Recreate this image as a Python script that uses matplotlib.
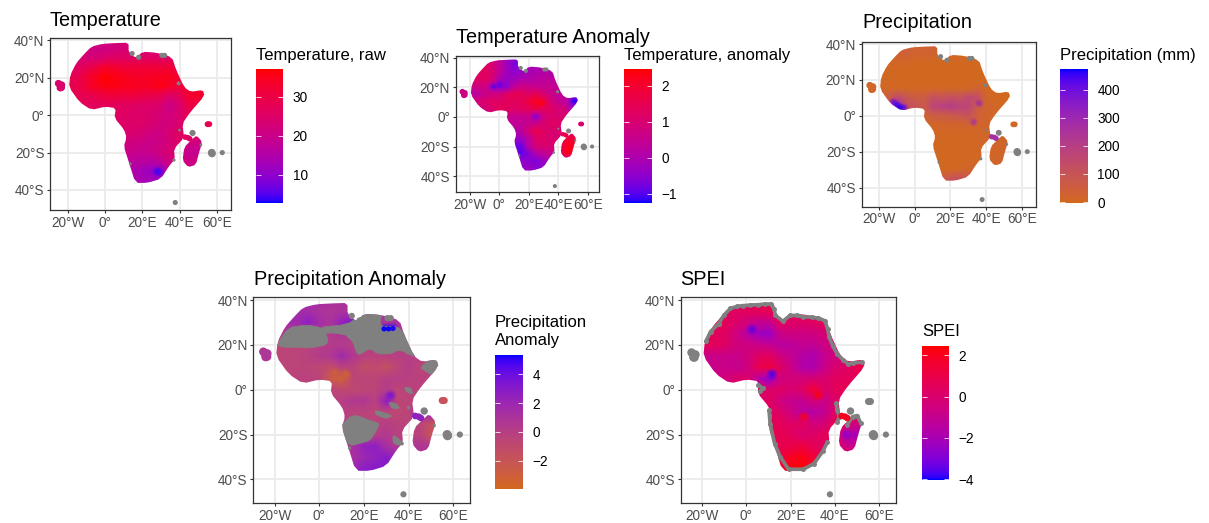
import numpy as np
import matplotlib

matplotlib.use("Agg")
import matplotlib.pyplot as plt
from matplotlib.colors import ListedColormap
from matplotlib.patches import Polygon, PathPatch
from matplotlib.path import Path

plt.rcParams['font.family'] = ['Liberation Sans', 'DejaVu Sans']

W, H = 1209, 523

# coast, lon/lat
africa_outline = [(-7.4, 36.7), (-1.4, 38.2), (6, 38.6), (12.6, 38.8), (12.6, 33.7), (16.7, 30.5), (20, 34), (28, 33.4),
                  (36, 31), (38, 24.7), (42.5, 15), (46, 12.5), (52.5, 13.5), (53.5, 10.4), (45.5, 1.3), (41.5, -4.6),
                  (42.5, -12), (37, -18), (37.5, -23.5), (34.5, -27), (30, -34), (22.7, -36.2), (16.2, -36.2),
                  (12.7, -25), (10, -16.7), (11.5, -12), (10.2, -7.7), (5, -1.5), (5.7, 3.8), (0, 4.6), (-7.4, 2.8),
                  (-13.8, 7), (-19.5, 15), (-18.8, 21.5), (-15.5, 28), (-11.5, 32.5)]
madagascar_outline = [(49.2, -10.8), (52.3, -14.4), (50.5, -20), (48.8, -26.5), (44.7, -27.8), (41.6, -24.2),
                      (42.6, -17), (46.5, -13.2)]

cape_verde_lon = [-25.2, -24.6, -24, -23.4, -24.2, -23.5]
cape_verde_lat = [17, 16.5, 15, 16.2, 14.6, 14.8]
seychelles_lon = [55.1, 56]
seychelles_lat = [-4.8, -4.8]
comoros_lon = [43, 44.5, 45.5]
comoros_lat = [-11.7, -12, -12.6]
grey_isl_lon = [47, 57.5, 57.3, 63, 37.7]
grey_isl_lat = [-9.5, -20.5, -20, -20, -46.7]
grey_isl_size = [1, 1.5, 1.5, 0.7, 0.7]

coast_na_lon = [14.5, 18, 30.5, 32, 39.5, 40, 37, 13.5, 51.5]
coast_na_lat = [33, 31, 32, 32, 17, -8, -24, -26, -16]
coast_na_size = [1, 1, 1, 1, 0.6, 0.3, 0.4, 0.3, 0.3]

# coast stretches without SPEI
spei_runs = [
    [(-12.5, 29.5), (-10.3, 33.2), (-7.3, 36.3), (-4.4, 37.2), (-1.4, 37.6), (1.7, 37.8), (5.4, 38), (8.4, 38.3),
     (11, 38.3), (12.5, 36), (13, 33.3), (16.5, 30.6), (19.7, 33.2), (22.7, 33.2), (25.7, 32.6), (29.5, 32.4),
     (32.5, 32), (35.5, 30.8), (36.7, 27), (37.4, 23.5), (39, 19.5), (41, 16), (43.8, 13.2), (46, 11.5), (48.3, 12),
     (52, 12.3)],
    [(40.5, -6), (41, -9.2), (42, -12), (41, -14.5)],
    [(36.5, -23.5), (34.5, -27.5), (30.5, -33), (25.7, -35.5), (19, -35.5), (15.3, -30), (12.7, -24), (10.7, -15.2),
     (10.2, -9.2)],
    [(5.4, 2), (7.7, 0.6), (6.2, -0.6)],
    [(-18.3, 21.7), (-16.2, 26), (-12.5, 29.5)],
    [(45.3, -15.9), (48, -12), (50, -11.5), (51.7, -15)],
]

temp_raw = [
    [24, 24, 22, 21, 22, 23, 23, 23, 23, 23, 23, 23, 23, 23, 23, 23],
    [24, 24, 22, 21, 21, 22, 23, 23, 23, 23, 23, 23, 23, 23, 23, 23],
    [24, 24, 23, 23, 25, 26, 26, 26, 26, 26, 26, 26, 26, 26, 26, 26],
    [26, 26, 28, 31, 34, 33, 32, 32, 32, 32, 32, 32, 30, 30, 30, 30],
    [28, 28, 32, 35, 37, 36, 35, 34, 34, 34, 35, 35, 33, 33, 33, 33],
    [28, 29, 32, 35, 36, 36, 35, 35, 34, 35, 36, 34, 31, 33, 33, 33],
    [28, 28, 28, 29, 31, 31, 31, 31, 30, 29, 28, 25, 27, 33, 33, 33],
    [27, 27, 27, 27, 27, 27, 26, 26, 25, 25, 24, 20, 24, 30, 30, 30],
    [26, 26, 26, 26, 26, 26, 26, 25, 25, 24, 23, 22, 24, 28, 28, 28],
    [25, 25, 25, 25, 25, 25, 25, 25, 25, 24, 22, 22, 24, 27, 27, 27],
    [24, 24, 24, 24, 24, 24, 24, 24, 23, 21, 21, 24, 26, 27, 27, 27],
    [22, 22, 22, 22, 22, 22, 22, 21, 21, 20, 21, 23, 25, 21, 21, 21],
    [20, 20, 20, 20, 20, 20, 20, 20, 19, 20, 22, 24, 22, 19, 19, 19],
    [17, 17, 17, 17, 17, 17, 17, 17, 17, 16, 18, 22, 22, 21, 21, 21],
    [15, 15, 15, 15, 15, 15, 15, 15, 13, 11, 9, 20, 20, 20, 20, 20],
    [15, 15, 15, 15, 15, 15, 15, 15, 14, 13, 14, 15, 15, 15, 15, 15],
]
temp_anom = [
    [1.2, 1.2, 1.2, 1.0, 0.5, -0.2, -0.6, -0.4, -0.2, -0.1, 0, 0, 0, 0, 0, 0],
    [1.2, 1.2, 1.2, 1.0, 0.4, -0.2, -0.7, -0.4, -0.1, -0.1, -0.1, 0, 0, 0, 0, 0],
    [1.2, 1.2, 1.3, 1.1, 0.4, -0.2, -0.5, -0.3, -0.1, 0, 0.1, 0.1, 0.1, 0.1, 0.1, 0.1],
    [1.2, 1.2, 1.3, 1.0, 0.0, -0.3, -0.2, 0, 0.1, 0.2, 0.3, 0.3, 0.3, 0.3, 0.3, 0.3],
    [0.6, 0.8, 0.7, 0.0, -0.7, -0.5, 0.3, 0.7, 0.6, 0.5, 0.5, 0.5, 0.4, 0.4, 0.4, 0.4],
    [0.2, 0.2, 0.6, 0.7, 0.8, 1.2, 1.5, 1.4, 1.2, 1.5, 1.0, 0.6, 0.4, 0.4, 0.0, 0.0],
    [0.8, 0.9, 1.1, 1.3, 1.2, 1.4, 1.3, 1.4, 1.8, 2.3, 1.9, 1.0, 0.5, 0.3, -0.9, -0.9],
    [0.9, 0.9, 0.8, 1.1, 1.4, 1.3, 1.2, 1.3, 1.4, 1.7, 1.4, 1.2, 1.0, 0.8, -0.3, -0.3],
    [0.7, 0.7, 0.7, 0.7, 0.7, 0.7, 0.5, 0.5, 0.6, -0.7, 0.8, 1.1, 1.0, 1.0, 1.0, 1.0],
    [0.5, 0.5, 0.5, 0.5, 0.5, 0.5, 0.4, 0.4, 0.5, 0.7, 1.0, 1.2, 1.2, 1.2, 1.2, 1.2],
    [0.4, 0.4, 0.4, 0.4, 0.4, 0.3, 0.2, 0.2, 1.0, 1.6, 1.2, 1.0, 1.0, 1.2, 1.2, 1.2],
    [0.2, 0.2, 0.2, 0.2, 0.2, 0.0, -0.3, -0.3, 0.3, 1.1, 1.2, 1.0, 1.0, 1.8, 1.9, 1.9],
    [0, 0, 0, 0, 0, 0, -0.8, -0.9, 0.2, 0.9, 1.1, 1.0, 1.0, 2.2, 2.2, 2.2],
    [-0.5, -0.5, -0.5, -0.5, -0.5, -0.5, -0.4, -1.0, -0.6, 0.1, 0.4, 0.5, 0.5, 2.2, 2.2, 2.2],
    [-0.5, -0.5, -0.5, -0.5, -0.5, -0.5, -0.4, -0.4, -0.5, -0.7, -0.3, 0, 0, 0, 0, 0],
    [-0.5, -0.5, -0.5, -0.5, -0.5, -0.5, -0.4, -0.4, -0.3, -0.5, -0.5, -0.5, -0.5, -0.5, -0.5, -0.5],
]
precip_raw = [
    [20, 20, 30, 50, 30, 30, 40, 15, 15, 15, 15, 15, 15, 15, 15, 15],
    [20, 20, 30, 45, 25, 25, 30, 12, 10, 10, 10, 10, 10, 10, 10, 10],
    [10, 10, 12, 15, 5, 3, 3, 2, 2, 2, 2, 2, 2, 2, 2, 2],
    [2, 2, 2, 1, 0, 0, 0, 0, 0, 0, 0, 0, 0, 0, 0, 0],
    [2, 2, 2, 1, 0, 0, 0, 0, 0, 0, 0, 0, 0, 0, 0, 0],
    [8, 8, 10, 5, 5, 5, 5, 8, 8, 5, 10, 30, 5, 0, 0, 0],
    [30, 60, 150, 90, 60, 60, 120, 100, 120, 110, 150, 130, 10, 2, 0, 0],
    [30, 30, 350, 120, 110, 70, 170, 190, 210, 180, 170, 60, 25, 10, 0, 0],
    [30, 30, 30, 30, 30, 30, 60, 60, 70, 90, 110, 40, 20, 10, 10, 10],
    [20, 20, 20, 20, 20, 20, 10, 20, 20, 20, 30, 20, 20, 10, 10, 10],
    [10, 10, 10, 10, 10, 10, 5, 5, 5, 5, 5, 10, 15, 20, 20, 20],
    [5, 5, 5, 5, 5, 5, 2, 2, 2, 2, 5, 10, 15, 15, 15, 15],
    [2, 2, 2, 2, 2, 2, 2, 2, 2, 5, 5, 5, 10, 10, 20, 20],
    [2, 2, 2, 2, 2, 2, 2, 2, 2, 5, 5, 5, 5, 20, 20, 20],
    [2, 2, 2, 2, 2, 2, 2, 2, 5, 10, 25, 25, 25, 25, 25, 25],
    [60, 60, 60, 60, 60, 60, 60, 60, 100, 110, 80, 60, 60, 60, 60, 60],
]
precip_anom = [
    [1.5, 1.5, 1.5, 1.5, 1.5, 1.2, 1.0, 1.0, 1.0, 1.0, 1.0, 1.0, 1.0, 1.0, 1.0, 1.0],
    [1.5, 1.5, 1.5, 1.5, 1.0, 0.8, 1.0, 1.0, 0.8, 0.8, 1.0, 1.2, 1.2, 1.2, 1.2, 1.2],
    [1.5, 1.5, 1.8, 2.8, 1.5, 1.0, 2.5, 3.5, 1.0, 0.8, 1.0, 1.2, 1.2, 1.2, 1.2, 1.2],
    [0.5, 0.5, 0.5, 0.5, 0.5, 0.3, 0.8, 0.5, 0.5, 0.5, 0.5, 0.5, 0.5, 0.5, 0.5, 0.5],
    [-0.6, -0.6, -0.5, -0.3, 0, 0.3, 0.3, 0, 0, 0, 0, 0, 0, 0, 0, 0],
    [-0.6, -0.5, -0.5, -0.2, 0.3, 0.6, 1.8, 0.5, -0.2, -0.3, -0.2, 0, 0, 0, 0, 0],
    [-0.5, -0.6, -0.5, -0.4, -0.8, -1.2, -0.3, -0.3, -1.3, -1.0, -1.5, -0.6, 0.2, -0.5, -0.5, -0.5],
    [-0.4, -0.4, -0.3, -0.3, -0.4, -2.5, -3.2, -0.6, -0.5, -0.5, 0.0, 0.0, -0.2, -0.3, -0.3, -0.3],
    [-0.3, -0.3, -0.3, -0.3, -0.3, -0.5, -0.8, -0.8, -0.7, -0.5, 0.3, -0.6, -0.3, -0.3, -0.3, -0.3],
    [-0.3, -0.3, -0.3, -0.3, -0.3, -0.3, 0, 0.5, 0.7, -0.2, 2.8, -0.6, -0.5, -0.5, -0.5, -0.5],
    [-0.3, -0.3, -0.3, -0.3, -0.3, 0, 0, -0.4, -0.4, -0.6, -0.5, -0.8, -0.5, 2.5, 2.5, 2.5],
    [-0.3, -0.3, -0.3, -0.3, -0.3, 0, 0, -0.3, -0.3, -0.3, 0, -0.3, -0.4, -0.5, -1.5, -1.5],
    [0, 0, 0, 0, 0, 0, 0, 0, 0, 0, 0.5, -0.2, -0.2, -0.3, -2.0, -2.0],
    [0.5, 0.5, 0.5, 0.5, 0.5, 0.5, 0.5, 1.2, 2.5, 2.8, 1.2, 0.5, 0.5, 0.8, 0.5, 0.5],
    [1.0, 1.0, 1.0, 1.0, 1.0, 1.0, 1.0, 1.2, 2.0, 2.5, 3.0, 2.0, 1.0, 1.0, 1.0, 1.0],
    [2.0, 2.0, 2.0, 2.0, 2.0, 2.0, 2.0, 2.0, 2.8, 3.0, 3.0, 2.0, 2.0, 2.0, 2.0, 2.0],
]
spei = [
    [0.2, 0.2, 0.2, 0.3, 0.5, 0.6, 0.7, 0.7, 0.7, 0.7, 0.7, 0.7, 0.7, 0.7, 0.7, 0.7],
    [0.5, 0.5, 0.4, 0.3, 0.5, 0.6, 0.8, 0.7, 0.6, 0.6, 0.6, 0.6, 0.6, 0.6, 0.6, 0.6],
    [0.6, 0.6, 0.5, 0.2, -0.5, -1.0, -1.0, 0.5, 0.2, 0.2, 0.3, 0.5, 0.5, 0.5, 0.5, 0.5],
    [0.5, 0.5, 0.4, -0.5, -1.5, -2.3, -2.5, -0.8, -0.5, -0.6, -0.5, -0.2, -0.2, -0.2, -0.2, -0.2],
    [0.5, 0.5, 0.2, -0.4, -0.5, -0.8, -1.0, -1.4, -1.4, -1.0, -1.2, -0.6, -0.2, -0.2, -0.2, -0.2],
    [-0.8, -0.8, -0.8, -0.8, -0.5, 0.3, 0.5, -0.5, -1.0, -1.6, -1.8, -1.0, -0.4, -0.3, 0.2, 0.2],
    [-0.8, -0.8, -0.8, -1.0, -0.6, 0.8, 1.2, 0.3, -0.8, -1.7, -1.8, -0.8, 0, 0.3, 1.0, 1.0],
    [-0.6, -0.6, -0.4, 0, 0.2, -1.5, -2.8, -0.5, -0.3, -0.3, -0.3, 0, 0.5, 0.5, 0.5, 0.5],
    [0, 0, 0, 0, 0, 0, 0.2, 0.2, -0.1, 0.2, 1.6, 0, 0.5, 0.8, 0.8, 0.8],
    [0, 0, 0, 0, 0, 0, 0.4, -0.5, -1.0, -1.0, -0.4, -0.8, 0.3, 0.3, 0.3, 0.3],
    [0, 0, 0, 0, 0, 0, 0.3, 0.2, -0.6, -1.4, -1.6, -1.0, 0.3, 1.4, 1.4, 1.4],
    [0.6, 0.6, 0.6, 0.6, 0.6, 0.6, 0.6, 0.6, 0.2, 0.5, -0.4, -0.3, 1.0, 0.0, -0.5, -0.5],
    [0.8, 0.8, 0.8, 0.8, 0.8, 0.8, 0.8, 0.8, 0.5, -0.1, 0.2, 0.6, 0.6, -2.0, -2.0, -2.0],
    [0.8, 0.8, 0.8, 0.8, 0.8, 0.8, 0.8, 0.8, 1.0, 1.2, 0.6, 0.3, 0.3, -0.8, -0.8, -0.8],
    [1.0, 1.0, 1.0, 1.0, 1.0, 1.0, 1.0, 1.2, 2.0, 2.2, 1.4, 0.8, 0.8, 0.8, 0.8, 0.8],
    [1.6, 1.6, 1.6, 1.6, 1.6, 1.6, 1.6, 1.8, 2.3, 2.4, 2.2, 1.6, 1.6, 1.6, 1.6, 1.6],
]

# no-data areas of the precipitation anomaly map
na_sahara_west = [(-19, 20.5), (-14, 27.7), (-6, 29), (0, 28), (2.4, 26), (4, 22.4), (3, 20), (-4.4, 18.6),
                  (-10, 19), (-17, 19)]
na_sahara_mid = [(0, 28), (12, 29), (20, 34), (14, 24), (6, 25.5), (2, 25)]
na_sahara_east = [(12, 26), (16, 30), (20, 34.5), (24, 34.5), (28, 34), (27, 28.4), (35, 28.4), (39, 24), (44, 14),
                  (36, 18), (32, 16), (26, 16), (22.7, 18.6), (18, 15.6), (16.7, 16.4), (15, 21.6), (12, 24)]
na_kalahari = [(9, -16.7), (13.7, -12), (16.7, -11.4), (22.7, -13.7), (27, -15), (25.7, -18), (22.7, -22.7),
               (18, -24), (13.7, -25), (10.5, -21)]
na_horn = [(45, 10), (51, 14.5), (55, 10.4), (50.5, 6.6), (48, 8)]
na_tanzania = [(31, -5.4), (34.7, -6.2), (36, -8.4), (32.5, -8.4)]
na_zambia = [(25, -9), (33, -11.5), (30, -13), (25, -11)]
na_kenya = [(38, 1), (41, 1), (42, -2), (39, -1)]
na_mozambique = [(33, -20), (37, -23), (37, -25), (33, -24)]

# small features the grids above miss: lon, lat, value
spots_temp = [(28, -30, 4), (29, -30.5, 5)]
spots_anom = [(51, 11, -1.2), (-4, 20.5, -1.0), (0, 22, -0.9), (29, 9, 2.4)]
spots_precip = [(-12, 7.5, 420), (-10, 6, 450), (-8, 4.5, 470), (-6, 4.5, 430), (33, -3.5, 260), (36, 7, 300)]
spots_panom = [(32, -2.5, 3.8), (12, 7, -3.4), (7, 7.5, -3.2), (31, 27.2, 5.3), (33, 27.4, 5.2), (29, 27.2, 5.3)]
spots_spei = [(11.5, 7, -3.8), (32.5, -2.5, 2.3), (2.5, 27, -3.6), (26, -12, 2.2), (45, -20, -2.6)]

titles = ["Temperature", "Temperature Anomaly", "Precipitation", "Precipitation Anomaly", "SPEI"]
legend_titles = ["Temperature, raw", "Temperature, anomaly", "Precipitation (mm)", "Precipitation\nAnomaly", "SPEI"]
value_ranges = [(2.9, 37.1), (-1.25, 2.46), (-2, 473), (-3.95, 5.34), (-4.03, 2.45)]
legend_ticks = [[10, 20, 30], [-1, 0, 1, 2], [0, 100, 200, 300, 400], [-2, 0, 2, 4], [-4, -2, 0, 2]]
island_values = [(24, 28, 26), (0.7, 1.0, 1.5), (12, 8, 270), (0.8, -1.8, 2.6), (np.nan, np.nan, 2.0)]

xticks = [-20, 0, 20, 40, 60]
xticklabels = ["20°W", "0°", "20°E", "40°E", "60°E"]
yticks = [-40, -20, 0, 20, 40]
yticklabels = ["40°S", "20°S", "0°", "20°N", "40°N"]


def lab_to_rgb(lab):
    fy = (lab[0] + 16) / 116
    f = np.array([fy + lab[1] / 500, fy, fy - lab[2] / 200])
    xyz = np.where(f > 6 / 29, f ** 3, 3 * (6 / 29) ** 2 * (f - 4 / 29)) * np.array([0.95047, 1, 1.08883])
    m = np.array([[3.2406, -1.5372, -0.4986], [-0.9689, 1.8758, 0.0415], [0.0557, -0.2040, 1.0570]])
    rgb = np.clip(m @ xyz, 0, 1)
    return np.where(rgb > 0.0031308, 1.055 * rgb ** (1 / 2.4) - 0.055, 12.92 * rgb)


def lab_cmap(low, high):
    # same blend ggplot does for a two colour gradient
    return ListedColormap([lab_to_rgb(np.array(low) + t * (np.array(high) - np.array(low)))
                           for t in np.linspace(0, 1, 256)])


LAB_BLUE = (32.30, 79.19, -107.86)
LAB_RED = (53.24, 80.09, 67.20)
LAB_CHOCOLATE = (55.99, 37.06, 56.74)
blue_red = lab_cmap(LAB_BLUE, LAB_RED)
choc_blue = lab_cmap(LAB_CHOCOLATE, LAB_BLUE)


def round_corners(outline, rounds=1):
    # corner cutting, the original blobs have no sharp corners
    xy = np.array(outline, dtype=float)
    for _ in range(rounds):
        nxt = np.roll(xy, -1, axis=0)
        xy = np.column_stack([0.8 * xy + 0.2 * nxt, 0.2 * xy + 0.8 * nxt]).reshape(-1, 2)
    return xy


def px_axes(fig, x0, y0, x1, y1):
    return fig.add_axes([x0 / W, 1 - y1 / H, (x1 - x0) / W, (y1 - y0) / H])


def land_patch(ax):
    parts = []
    for outline in [africa_outline, madagascar_outline]:
        xy = round_corners(outline)
        parts.append(Path(np.vstack([xy, xy[:1]]), closed=True))
    patch = PathPatch(Path.make_compound_path(*parts), facecolor='none', edgecolor='none', transform=ax.transData)
    ax.add_patch(patch)
    return patch


def draw_map(ax, grid, cmap, vmin, vmax, spots, isl_vals, na_regions=(), spei_map=False):
    box = ax.get_position()
    scale = (box.width * W / 181) ** 2
    grey = '#808080'
    ax.set_xlim(-29.7, 67.7)
    ax.set_ylim(-50.7, 41.3)
    land = land_patch(ax)
    im = ax.imshow(np.array(grid, dtype=float), extent=(-22.5, 57.5, -37.5, 42.5), cmap=cmap, vmin=vmin, vmax=vmax,
                   interpolation='bilinear', aspect='auto', zorder=2)
    im.set_clip_path(land)
    ax.set_xlim(-29.7, 67.7)
    ax.set_ylim(-50.7, 41.3)
    sx, sy, sv = zip(*spots)
    for size, alpha in [(45, 0.2), (24, 0.3), (10, 0.5)]:
        sc = ax.scatter(sx, sy, c=sv, cmap=cmap, vmin=vmin, vmax=vmax, s=size * scale, linewidths=0, alpha=alpha,
                        zorder=3)
        sc.set_clip_path(land)
    for region in na_regions:
        p = Polygon(round_corners(region), closed=True, facecolor=grey, edgecolor=grey, lw=0.5, zorder=4)
        ax.add_patch(p)
        p.set_clip_path(land)
    if len(na_regions):
        # Egyptian coast strip, the brightest cells of this map sit on the grey edge
        ax.scatter(sx[3:], sy[3:], c=sv[3:], cmap=cmap, vmin=vmin, vmax=vmax, s=10 * scale, linewidths=0, zorder=5)
    if spei_map:
        for run in spei_runs:
            rx, ry = zip(*run)
            ax.plot(rx, ry, color=grey, lw=2.2 * box.width * W / 181, marker='o', ms=3.6, mew=0,
                    solid_capstyle='round', solid_joinstyle='round', zorder=5)
    else:
        ax.scatter(coast_na_lon, coast_na_lat, c=grey, s=np.array(coast_na_size) * 14 * scale, linewidths=0, zorder=5)
    ax.scatter(grey_isl_lon, grey_isl_lat, c=grey, s=np.array(grey_isl_size) * 20 * scale, linewidths=0, zorder=5)
    cv, sey, com = isl_vals
    n_cv = len(cape_verde_lon)
    if np.isnan(cv):
        ax.scatter(cape_verde_lon, cape_verde_lat, c=grey, s=26 * scale, linewidths=0, zorder=5)
        ax.scatter(seychelles_lon, seychelles_lat, c=grey, s=18 * scale, linewidths=0, zorder=5)
    else:
        ax.scatter(cape_verde_lon, cape_verde_lat, c=[cv] * n_cv, cmap=cmap, vmin=vmin, vmax=vmax, s=26 * scale,
                   linewidths=0, zorder=5)
        ax.scatter(seychelles_lon, seychelles_lat, c=[sey] * 2, cmap=cmap, vmin=vmin, vmax=vmax, s=18 * scale,
                   linewidths=0, zorder=5)
    ax.scatter(comoros_lon, comoros_lat, c=[com] * 3, cmap=cmap, vmin=vmin, vmax=vmax, s=16 * scale, linewidths=0,
               zorder=5)

    ax.set_xticks(xticks, xticklabels)
    ax.set_yticks(yticks, yticklabels)
    ax.grid(True, color='#EBEBEB', lw=1.3)
    ax.set_axisbelow(True)
    ax.tick_params(colors='#333333', labelcolor='#4D4D4D', labelsize=9.8, length=2.5, width=0.8, pad=1.5)
    for s in ax.spines.values():
        s.set_color('#333333')
        s.set_linewidth(0.9)


def draw_legend(ax, cmap, vmin, vmax, ticks):
    ax.imshow(np.linspace(vmax, vmin, 300).reshape(-1, 1), cmap=cmap, vmin=vmin, vmax=vmax, aspect='auto',
              extent=(0, 1, vmin, vmax), interpolation='bilinear')
    ax.set_xticks([])
    ax.yaxis.tick_right()
    ax.set_yticks(ticks, [str(t).replace('-', '\u2212') for t in ticks])
    ax.tick_params(axis='y', left=True, right=True, direction='in', color='white', length=3.9, width=0.7,
                   labelsize=9.8, labelcolor='black', pad=7)
    for tick in ax.yaxis.get_major_ticks():
        tick.tick1line.set_alpha(0.8)
        tick.tick2line.set_alpha(0.8)
    for s in ax.spines.values():
        s.set_visible(False)


map_boxes = [(50, 38, 231, 210), (455.7, 55.7, 599, 192), (861.7, 41.7, 1035.7, 206.7),
             (253.3, 297.3, 470.3, 503.3), (680.7, 297.3, 896.3, 503.3)]
legend_boxes = [(256, 69, 283, 202.7), (624, 69, 652, 202.7), (1060, 69, 1087.7, 202.7),
                (495, 355, 523, 488.7), (922, 346, 949, 479.7)]
title_pos = [(50, 26), (456, 43), (862, 28), (254, 285), (680, 285)]
legend_title_pos = [(256, 60), (624, 60), (1060, 60), (495, 327), (922, 336)]

grids = [temp_raw, temp_anom, precip_raw, precip_anom, spei]
cmaps = [blue_red, blue_red, choc_blue, choc_blue, blue_red]
spot_sets = [spots_temp, spots_anom, spots_precip, spots_panom, spots_spei]
na_sets = [(), (), (), (na_sahara_west, na_sahara_mid, na_sahara_east, na_kalahari, na_horn, na_tanzania, na_zambia,
                        na_kenya, na_mozambique), ()]

fig = plt.figure(figsize=(W / 100, H / 100), dpi=100)
for i in range(5):
    vmin, vmax = value_ranges[i]
    ax = px_axes(fig, *map_boxes[i])
    draw_map(ax, grids[i], cmaps[i], vmin, vmax, spot_sets[i], island_values[i], na_sets[i], spei_map=i == 4)
    cax = px_axes(fig, *legend_boxes[i])
    draw_legend(cax, cmaps[i], vmin, vmax, legend_ticks[i])
    fig.text(title_pos[i][0] / W, 1 - title_pos[i][1] / H, titles[i], fontsize=14.3, va='baseline', ha='left')
    lines = legend_titles[i].split('\n')
    for j, line in enumerate(lines):
        fig.text(legend_title_pos[i][0] / W, 1 - (legend_title_pos[i][1] + 18 * j) / H, line, fontsize=11.95,
                 va='baseline', ha='left')

fig.savefig('out.png', dpi=100)
